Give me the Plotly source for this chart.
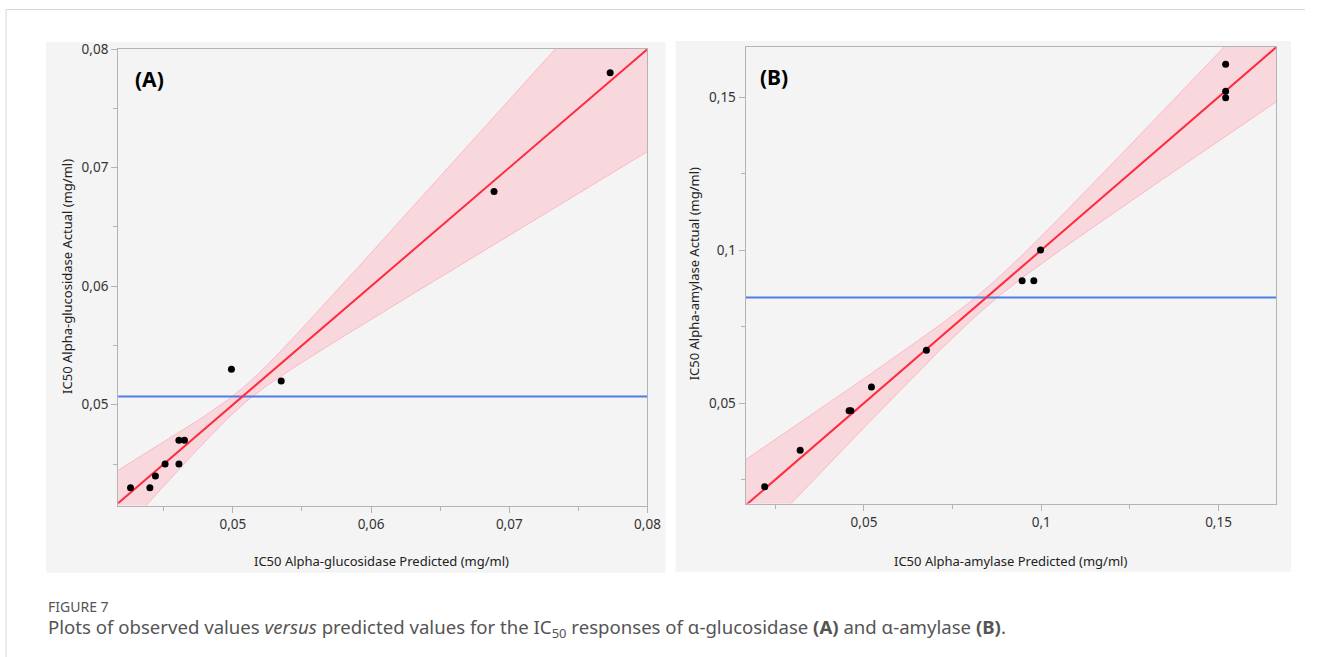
import numpy as np
import plotly.graph_objects as go

# ---------------- data ----------------
# Panel A: alpha-glucosidase
a_pred = [0.0426, 0.0440, 0.0444, 0.0451, 0.0461, 0.0461, 0.0465, 0.0499, 0.0535, 0.0689, 0.0773]
a_act = [0.0430, 0.0430, 0.0440, 0.0450, 0.0450, 0.0470, 0.0470, 0.0530, 0.0520, 0.0680, 0.0780]
a_mean = 0.0507
a_band_center = 0.0508
a_band_min = 0.0007
a_band_slope = 0.295
a_range = [0.0417, 0.0800]
a_yrange = [0.0415, 0.0800]
a_ticks = [0.05, 0.06, 0.07, 0.08]
a_ticktext = ["0,05", "0,06", "0,07", "0,08"]

# Panel B: alpha-amylase
b_pred = [0.0220, 0.0320, 0.0458, 0.0463, 0.0521, 0.0676, 0.0946, 0.0979, 0.0998, 0.1520, 0.1520, 0.1520]
b_act = [0.0227, 0.0346, 0.0475, 0.0475, 0.0553, 0.0673, 0.0900, 0.0900, 0.1000, 0.1607, 0.1519, 0.1498]
b_mean = 0.0845
b_band_center = 0.0845
b_band_min = 0.0030
b_band_slope = 0.215
b_range = [0.0166, 0.1662]
b_yrange = [0.0172, 0.1663]
b_ticks = [0.05, 0.10, 0.15]
b_ticktext = ["0,05", "0,1", "0,15"]

x_title_a = "IC50 Alpha-glucosidase Predicted (mg/ml)"
y_title_a = "IC50 Alpha-glucosidase Actual (mg/ml)"
x_title_b = "IC50 Alpha-amylase Predicted (mg/ml)"
y_title_b = "IC50 Alpha-amylase Actual (mg/ml)"

W, H = 1319, 657
# effective drawing frame as observed in the photographed page
FRAME_W, FRAME_H, FRAME_TOP = 1304, 646, 8


def px(x):
    return x / FRAME_W


def py(y):
    return 1 - (y - FRAME_TOP) / FRAME_H


FONT = "Noto Sans"
RED = "#ff2b3d"
BLUE = "#4a7fe3"
BAND_FILL = "rgba(255,175,188,0.40)"
BAND_LINE = "rgba(255,150,170,0.55)"
AXIS_COL = "#b4b4b4"

fig = go.Figure()


def add_panel(pred, act, mean, c, h0, k, xr, yr, xa, ya):
    xs = np.linspace(xr[0], xr[1], 300)
    hw = np.sqrt(h0 ** 2 + (k * (xs - c)) ** 2)
    fig.add_trace(go.Scatter(x=xs, y=xs - hw, mode="lines", xaxis=xa, yaxis=ya,
                             line=dict(color=BAND_LINE, width=1), hoverinfo="skip", showlegend=False))
    fig.add_trace(go.Scatter(x=xs, y=xs + hw, mode="lines", xaxis=xa, yaxis=ya, fill="tonexty",
                             fillcolor=BAND_FILL, line=dict(color=BAND_LINE, width=1),
                             hoverinfo="skip", showlegend=False))
    fig.add_trace(go.Scatter(x=xr, y=[mean, mean], mode="lines", xaxis=xa, yaxis=ya,
                             line=dict(color=BLUE, width=2), showlegend=False))
    fig.add_trace(go.Scatter(x=xr, y=xr, mode="lines", xaxis=xa, yaxis=ya,
                             line=dict(color=RED, width=2), showlegend=False))
    fig.add_trace(go.Scatter(x=pred, y=act, mode="markers", xaxis=xa, yaxis=ya,
                             marker=dict(color="black", size=7), showlegend=False))


add_panel(a_pred, a_act, a_mean, a_band_center, a_band_min, a_band_slope, a_range, a_yrange, "x", "y")
add_panel(b_pred, b_act, b_mean, b_band_center, b_band_min, b_band_slope, b_range, b_yrange, "x2", "y2")

axis_common = dict(showline=True, linecolor=AXIS_COL, linewidth=1, mirror=True, showgrid=False,
                   zeroline=False, ticks="outside", ticklen=6, tickcolor=AXIS_COL, tickwidth=1,
                   tickfont=dict(family=FONT, size=13.5, color="#333333"))

fig.update_layout(
    width=W, height=H, autosize=False, margin=dict(l=0, r=0, t=0, b=0),
    paper_bgcolor="white", plot_bgcolor="white", showlegend=False,
    xaxis=dict(domain=[px(118), px(647)], range=a_range, anchor="y", tickvals=a_ticks, ticktext=a_ticktext,
               minor=dict(dtick=0.005, tick0=0.0, ticks="outside", ticklen=4, tickcolor=AXIS_COL), **axis_common),
    yaxis=dict(domain=[py(503), py(48)], range=a_yrange, anchor="x", tickvals=a_ticks, ticktext=a_ticktext,
               minor=dict(dtick=0.005, tick0=0.0, ticks="outside", ticklen=4, tickcolor=AXIS_COL), **axis_common),
    xaxis2=dict(domain=[px(745), px(1275)], range=b_range, anchor="y2", tickvals=b_ticks, ticktext=b_ticktext,
                minor=dict(dtick=0.025, tick0=0.0, ticks="outside", ticklen=4, tickcolor=AXIS_COL), **axis_common),
    yaxis2=dict(domain=[py(501), py(46)], range=b_yrange, anchor="x2", tickvals=b_ticks, ticktext=b_ticktext,
                minor=dict(dtick=0.025, tick0=0.0, ticks="outside", ticklen=4, tickcolor=AXIS_COL), **axis_common),
)

shapes = [
    # grey panel backgrounds
    dict(type="rect", xref="paper", yref="paper", x0=px(46), x1=px(665), y0=py(570), y1=py(41),
         fillcolor="#f4f4f4", line=dict(width=0), layer="below"),
    dict(type="rect", xref="paper", yref="paper", x0=px(675), x1=px(1290), y0=py(569), y1=py(40),
         fillcolor="#f4f4f4", line=dict(width=0), layer="below"),
    # page frame lines
    dict(type="line", xref="paper", yref="paper", x0=px(6), x1=1, y0=py(8.6), y1=py(8.6),
         line=dict(color="#d6d6d6", width=1)),
    dict(type="line", xref="paper", yref="paper", x0=px(6), x1=px(6), y0=py(8.6), y1=0,
         line=dict(color="#d6d6d6", width=1)),
]
fig.update_layout(shapes=shapes)

ann = [
    dict(text="<b>(A)</b>", x=px(133), y=py(78), xanchor="left", yanchor="middle",
         font=dict(family=FONT, size=21, color="black")),
    dict(text="<b>(B)</b>", x=px(757), y=py(76), xanchor="left", yanchor="middle",
         font=dict(family=FONT, size=21, color="black")),
    dict(text=x_title_a, x=px(381), y=py(558), xanchor="center", yanchor="middle",
         font=dict(family=FONT, size=13, color="#222222")),
    dict(text=y_title_a, x=px(67), y=py(275), xanchor="center", yanchor="middle", textangle=-90,
         font=dict(family=FONT, size=13, color="#222222")),
    dict(text=x_title_b, x=px(1010), y=py(558), xanchor="center", yanchor="middle",
         font=dict(family=FONT, size=13, color="#222222")),
    dict(text=y_title_b, x=px(693), y=py(272), xanchor="center", yanchor="middle", textangle=-90,
         font=dict(family=FONT, size=13, color="#222222")),
    dict(text="FIGURE 7", x=px(46), y=py(604), xanchor="left", yanchor="middle",
         font=dict(family=FONT, size=14, color="#555555")),
    dict(text="Plots of observed values <i>versus</i> predicted values for the IC<sub>50</sub> responses of "
              "\u03b1-glucosidase <b>(A)</b> and \u03b1-amylase <b>(B)</b>.",
         x=px(46), y=py(625), xanchor="left", yanchor="middle",
         font=dict(family=FONT, size=18.6, color="#555555")),
]
for a in ann:
    a.update(xref="paper", yref="paper", showarrow=False)
fig.update_layout(annotations=ann)

page_css = ("var s=document.createElement('style');"
            "s.innerHTML='html,body{margin:0!important;padding:0!important;overflow:hidden!important;}';"
            "document.head.appendChild(s);")

fig.write_html("out.html", config={"responsive": False, "displayModeBar": False},
               post_script=page_css)
